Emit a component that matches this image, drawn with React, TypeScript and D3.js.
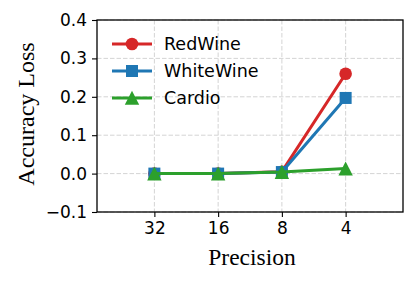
import { useEffect, useRef } from "react";
import * as d3 from "d3";

const precisions = ["32", "16", "8", "4"];
const redWine = [0, 0, 0.005, 0.26];
const whiteWine = [0, 0, 0.004, 0.197];
const cardio = [0, 0, 0.004, 0.013];
const yTicks = [-0.1, 0, 0.1, 0.2, 0.3, 0.4];

const series = [
  { name: "RedWine", values: redWine, color: "#d62728", marker: "circle" },
  { name: "WhiteWine", values: whiteWine, color: "#1f77b4", marker: "square" },
  { name: "Cardio", values: cardio, color: "#2ca02c", marker: "triangle" },
];

const W = 416;
const H = 283;
const margin = { top: 20, right: 13, bottom: 71, left: 97 };

export default function App() {
  const svgRef = useRef<SVGSVGElement>(null);

  useEffect(() => {
    if (!svgRef.current) return;
    const root = d3.select(svgRef.current);
    root.selectAll("*").remove();

    const innerW = W - margin.left - margin.right;
    const innerH = H - margin.top - margin.bottom;

    const x = d3.scaleLinear().domain([-0.9, 3.9]).range([0, innerW]);
    const y = d3.scaleLinear().domain([-0.1, 0.4]).range([innerH, 0]);

    const g = root.append("g").attr("transform", `translate(${margin.left},${margin.top})`);

    // grid
    const grid = g.append("g").attr("stroke", "#cfcfcf").attr("stroke-width", 0.9).attr("stroke-dasharray", "4.5,2");
    precisions.forEach((_, i) => {
      grid.append("line").attr("x1", x(i)).attr("x2", x(i)).attr("y1", 0).attr("y2", innerH);
    });
    yTicks.forEach((t) => {
      grid.append("line").attr("x1", 0).attr("x2", innerW).attr("y1", y(t)).attr("y2", y(t));
    });

    const drawMarker = (sel: d3.Selection<SVGGElement, unknown, null, undefined>, kind: string, color: string, cx: number, cy: number) => {
      if (kind === "circle") {
        sel.append("circle").attr("cx", cx).attr("cy", cy).attr("r", 6.3).attr("fill", color);
      } else if (kind === "square") {
        sel.append("rect").attr("x", cx - 6).attr("y", cy - 6).attr("width", 12).attr("height", 12).attr("fill", color);
      } else {
        const s = 7.2;
        sel.append("path")
          .attr("d", `M${cx},${cy - s} L${cx + s},${cy + s * 0.95} L${cx - s},${cy + s * 0.95} Z`)
          .attr("fill", color);
      }
    };

    const line = d3.line<number>().x((_, i) => x(i)).y((d) => y(d));

    series.forEach((s) => {
      const sg = g.append("g");
      sg.append("path")
        .attr("d", line(s.values)!)
        .attr("fill", "none")
        .attr("stroke", s.color)
        .attr("stroke-width", 3)
        .attr("stroke-linejoin", "round");
      s.values.forEach((v, i) => drawMarker(sg, s.marker, s.color, x(i), y(v)));
    });

    // spines
    g.append("rect")
      .attr("width", innerW).attr("height", innerH)
      .attr("fill", "none").attr("stroke", "#000").attr("stroke-width", 1.3);

    // axes
    const xAxis = d3.axisBottom(x)
      .tickValues(precisions.map((_, i) => i))
      .tickFormat((d) => precisions[d as number])
      .tickSize(5).tickPadding(5);
    const yAxis = d3.axisLeft(y)
      .tickValues(yTicks)
      .tickFormat((d) => (d as number).toFixed(1).replace("-", "\u2212"))
      .tickSize(5).tickPadding(5);

    const xg = g.append("g").attr("transform", `translate(0,${innerH})`).call(xAxis);
    const yg = g.append("g").call(yAxis);
    [xg, yg].forEach((ax) => {
      ax.select(".domain").remove();
      ax.selectAll(".tick line").attr("stroke", "#000").attr("stroke-width", 1.1);
      ax.selectAll(".tick text")
        .attr("fill", "#000")
        .style("font-family", "DejaVu Sans")
        .style("font-size", "17px");
    });

    // axis labels
    root.append("text")
      .attr("x", margin.left + innerW / 2 + 2)
      .attr("y", 265)
      .attr("text-anchor", "middle")
      .style("font-family", "Liberation Serif")
      .style("font-size", "23.5px")
      .text("Precision");
    root.append("text")
      .attr("transform", `translate(34,${margin.top + innerH / 2 - 2}) rotate(-90)`)
      .attr("text-anchor", "middle")
      .style("font-family", "Liberation Serif")
      .style("font-size", "24px")
      .text("Accuracy Loss");

    // legend
    const lg = g.append("g");
    series.forEach((s, i) => {
      const cy = 24 + i * 27;
      const row = lg.append("g");
      row.append("line").attr("x1", 15).attr("x2", 55).attr("y1", cy).attr("y2", cy)
        .attr("stroke", s.color).attr("stroke-width", 3);
      drawMarker(row, s.marker, s.color, 35, cy);
      row.append("text")
        .attr("x", 67).attr("y", cy)
        .attr("dy", "0.36em")
        .style("font-family", "DejaVu Sans")
        .style("font-size", "17.5px")
        .text(s.name);
    });
  }, []);

  return (
    <div style={{ margin: -8 }}>
      <svg ref={svgRef} width={W} height={H} style={{ display: "block", background: "#fff" }} />
    </div>
  );
}
